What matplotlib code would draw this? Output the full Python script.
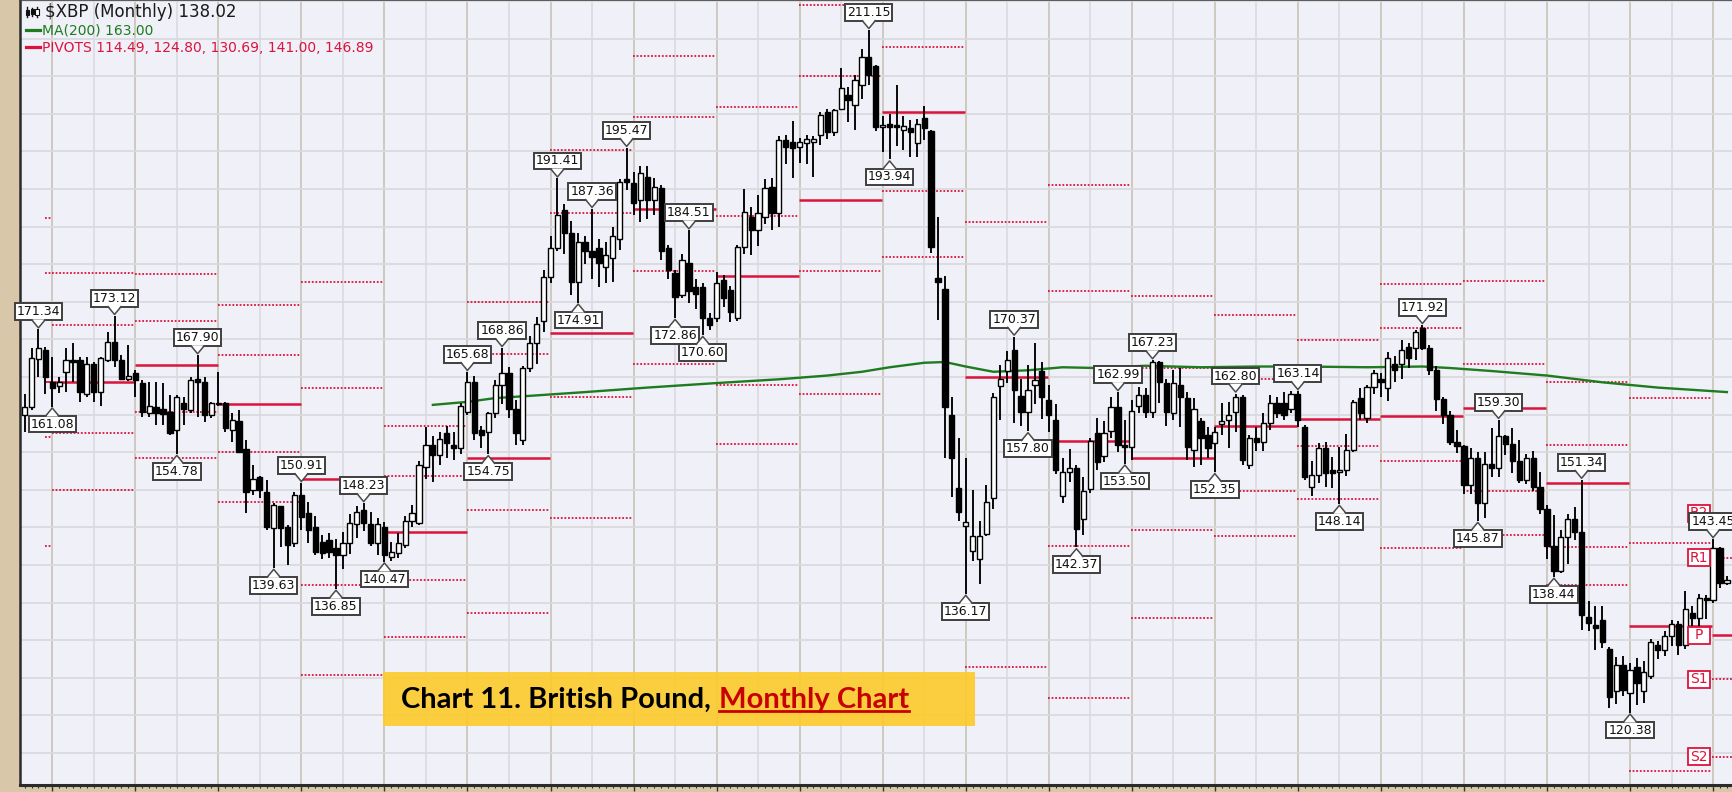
import numpy as np
import matplotlib
matplotlib.use("Agg")
import matplotlib.pyplot as plt
from matplotlib.patches import Rectangle, Polygon
from matplotlib.lines import Line2D
from matplotlib.transforms import IdentityTransform
from matplotlib.ticker import FixedLocator, MultipleLocator

# monthly candles, index 0 = Sep 1997 ... index 246 = Mar 2018
opens = [
    159.9, 161.0, 167.4, 168.6,
    164.4, 163.8, 165.7, 167.3, 167.3, 162.8, 166.8, 163.0, 167.3, 169.7, 167.3, 164.8,
    165.5, 164.2, 160.2, 161.0, 160.7, 160.3, 157.95, 161.6, 160.6, 164.8, 164.4, 159.9,
    161.4, 161.5, 158.0, 159.1, 155.4, 150.0, 151.7, 149.75, 144.9, 147.8, 145.1, 142.9,
    149.3, 146.9, 145.1, 143.1, 143.3, 142.2, 141.3, 142.9, 145.5, 147.3, 145.5, 142.9,
    145.1, 141.1, 141.6, 142.6, 145.8, 145.55, 153.1, 155.96, 154.6, 157.5, 156.0, 155.5,
    160.4, 164.4, 157.9, 157.7, 160.2, 163.9, 165.5, 160.8, 156.6, 166.2, 169.5, 172.4,
    178.3, 182.1, 187.2, 184.1, 177.7, 183.0, 181.8, 182.1, 179.6, 180.8, 183.4, 191.3,
    190.8, 188.6, 191.6, 188.6, 190.1, 182.1, 178.9, 175.9, 180.1, 177.0, 177.0, 172.8,
    172.8, 177.9, 176.6, 172.8, 182.3, 186.3, 184.6, 186.3, 190.3, 186.8, 196.5, 196.3,
    195.6, 196.1, 196.2, 197.2, 200.3, 197.6, 200.7, 202.5, 201.2, 203.8, 207.6, 206.3,
    198.3, 198.6, 198.5, 197.9, 198.1, 196.1, 199.4, 197.7, 178.2, 176.7, 160.0, 150.2,
    145.2, 141.9, 140.8, 144.1, 148.9, 163.8, 165.8, 168.6, 162.5, 160.3, 163.9, 165.8,
    162.0, 159.3, 149.2, 152.4, 152.9, 146.1, 150.1, 157.5, 154.5, 157.8, 161.0, 156.0,
    155.7, 161.1, 162.6, 160.4, 167.05, 164.2, 160.2, 163.95, 162.2, 155.3, 159.1, 157.3,
    156.2, 158.7, 159.3, 160.4, 162.4, 153.3, 156.9, 156.4, 158.85, 161.5, 161.5, 160.8,
    162.8, 158.4, 150.4, 152.0, 155.5, 152.6, 152.4, 152.6, 155.3, 162.2, 159.5, 163.7,
    164.8, 163.5, 166.8, 166.8, 169.04, 168.8, 171.48, 168.9, 166.0, 162.1, 160.0, 156.4,
    155.8, 150.6, 154.3, 148.3, 153.5, 152.9, 157.1, 156.1, 153.8, 151.3, 154.3, 150.4,
    147.4, 142.5, 139.2, 143.7, 146.1, 144.4, 133.1, 132.0, 132.7, 128.9, 123.2, 126.7,
    123.0, 126.5, 123.2, 125.2, 129.4, 128.7, 130.5, 132.2, 129.4, 133.6, 132.9, 135.6,
    135.3, 142.2, 137.6,
]
highs = [
    162.8, 168.8, 171.34, 169.0,
    167.7, 165.0, 168.8, 169.5, 167.7, 167.7, 167.0, 167.7, 171.0, 173.12, 167.9, 169.3,
    165.9, 164.6, 164.4, 164.4, 164.2, 162.6, 162.6, 162.4, 165.05, 167.9, 165.0, 161.7,
    165.7, 161.7, 160.2, 160.6, 156.6, 153.3, 151.8, 151.3, 148.2, 147.9, 145.3, 149.75,
    150.91, 148.4, 146.5, 144.0, 144.2, 143.5, 144.4, 146.8, 147.9, 148.23, 147.0, 146.3,
    145.7, 143.1, 144.2, 146.5, 148.0, 153.8, 158.4, 157.1, 157.7, 158.5, 157.7, 161.6,
    165.68, 165.2, 158.5, 160.4, 164.6, 168.86, 166.3, 162.0, 166.5, 170.4, 173.0, 179.2,
    183.7, 191.41, 188.0, 185.7, 184.1, 183.8, 187.36, 183.4, 183.0, 185.0, 191.3, 195.47,
    192.3, 193.0, 193.0, 191.5, 190.6, 182.5, 179.3, 181.3, 184.51, 178.0, 177.5, 173.5,
    179.0, 178.6, 177.1, 182.5, 190.0, 187.6, 189.2, 191.3, 191.5, 197.0, 197.2, 199.1,
    196.8, 197.2, 197.0, 200.3, 200.7, 200.7, 206.1, 203.6, 205.2, 208.6, 211.15, 206.5,
    199.7, 200.0, 203.9, 199.7, 199.2, 199.3, 201.1, 197.9, 186.3, 178.5, 162.4, 156.9,
    154.2, 150.0, 145.8, 150.6, 162.9, 166.6, 168.5, 170.37, 164.8, 166.6, 169.5, 167.0,
    163.9, 161.4, 154.3, 155.4, 153.3, 151.7, 156.9, 159.6, 159.1, 162.3, 162.99, 159.3,
    162.0, 163.7, 163.5, 167.23, 167.1, 164.8, 165.9, 166.2, 163.0, 162.2, 159.5, 158.4,
    158.4, 161.5, 161.7, 162.80, 162.6, 157.3, 158.3, 160.2, 162.6, 162.4, 163.0, 163.1,
    163.14, 158.6, 153.8, 156.2, 156.4, 154.4, 155.7, 157.4, 162.0, 163.5, 164.0, 165.9,
    165.5, 168.3, 167.8, 169.9, 169.5, 171.2, 171.92, 169.3, 166.5, 162.3, 160.5, 157.9,
    155.9, 155.5, 155.0, 154.97, 158.2, 159.30, 157.3, 158.2, 156.6, 154.8, 155.1, 152.4,
    148.0, 146.7, 144.6, 146.8, 147.7, 151.34, 135.2, 134.5, 134.6, 129.1, 127.8, 127.9,
    127.0, 127.7, 127.2, 130.2, 129.9, 131.2, 132.7, 132.5, 136.6, 134.5, 136.2, 136.0,
    143.45, 142.4, 138.5,
]
lows = [
    157.7, 160.6, 165.0, 162.8,
    161.08, 162.9, 163.05, 164.4, 161.7, 162.4, 161.7, 161.1, 167.0, 166.4, 164.6, 164.5,
    162.4, 159.7, 159.7, 158.6, 158.6, 157.3, 154.78, 158.6, 160.2, 159.7, 159.05, 159.5,
    161.1, 157.7, 156.4, 155.0, 146.9, 149.3, 148.9, 144.7, 139.63, 142.4, 140.0, 142.4,
    144.7, 142.9, 141.3, 140.8, 141.0, 136.85, 139.5, 141.5, 143.6, 144.5, 142.5, 141.3,
    140.47, 140.6, 140.9, 142.2, 145.0, 145.3, 151.5, 151.0, 153.3, 154.2, 154.0, 154.8,
    160.0, 156.6, 155.6, 154.75, 159.5, 161.4, 159.5, 156.0, 155.9, 165.7, 166.8, 171.0,
    177.5, 181.7, 181.3, 175.9, 174.91, 180.0, 178.0, 177.0, 177.5, 177.6, 181.9, 189.9,
    186.5, 185.6, 186.0, 186.6, 180.6, 178.1, 172.86, 175.5, 174.8, 174.0, 170.60, 171.2,
    172.3, 174.3, 172.3, 172.5, 181.3, 181.2, 182.4, 185.3, 184.5, 185.0, 193.3, 191.5,
    193.5, 193.3, 191.6, 195.9, 196.6, 197.0, 200.5, 198.9, 197.8, 202.0, 203.8, 197.7,
    194.9, 193.94, 195.7, 195.2, 194.3, 194.2, 196.5, 181.5, 172.6, 154.2, 149.0, 145.8,
    136.17, 140.5, 137.5, 143.9, 147.5, 159.3, 164.2, 158.9, 158.5, 157.80, 161.4, 159.4,
    157.7, 152.1, 148.2, 151.0, 142.37, 144.0, 149.6, 152.7, 153.7, 156.9, 155.0, 153.50,
    154.0, 160.2, 159.5, 159.6, 161.5, 158.5, 159.3, 158.3, 154.0, 153.0, 153.3, 154.2,
    152.35, 157.3, 155.5, 157.7, 153.3, 152.8, 155.1, 155.1, 158.0, 159.5, 159.3, 160.2,
    158.4, 151.3, 149.2, 150.9, 150.4, 150.2, 148.14, 151.8, 155.0, 159.3, 158.9, 162.8,
    162.4, 161.8, 164.4, 164.8, 166.2, 167.3, 168.6, 165.3, 160.5, 158.8, 155.9, 154.9,
    149.5, 149.5, 145.87, 146.2, 151.7, 151.7, 154.6, 152.3, 150.9, 150.8, 149.9, 146.8,
    140.8, 138.44, 139.0, 140.1, 143.3, 131.3, 131.2, 128.7, 129.0, 121.0, 121.5, 122.6,
    120.38, 121.4, 121.7, 124.8, 127.5, 127.9, 129.3, 128.0, 128.9, 131.9, 131.8, 132.8,
    134.9, 137.0, 137.3,
]
closes = [
    161.0, 167.5, 168.8, 165.0,
    163.5, 164.3, 167.3, 167.0, 163.05, 166.8, 163.05, 167.5, 169.7, 167.3, 164.8, 165.1,
    164.6, 160.4, 161.1, 160.2, 160.1, 157.5, 162.4, 160.7, 164.6, 164.4, 159.95, 161.5,
    161.6, 158.2, 159.3, 155.07, 149.75, 151.5, 150.0, 145.1, 148.0, 144.9, 142.65, 149.3,
    146.4, 144.66, 141.8, 141.6, 141.8, 141.3, 142.9, 145.55, 147.1, 145.55, 142.9, 145.5,
    141.3, 141.8, 142.9, 145.8, 146.9, 153.3, 155.96, 154.6, 156.8, 156.2, 155.6, 161.2,
    164.4, 157.5, 157.3, 160.2, 163.9, 165.5, 160.8, 157.5, 166.2, 169.5, 172.1, 178.3,
    182.1, 186.5, 184.1, 177.7, 183.0, 181.8, 181.0, 180.1, 181.2, 183.7, 191.0, 191.0,
    188.1, 192.1, 188.6, 190.3, 181.7, 179.2, 175.7, 180.6, 176.4, 176.1, 172.8, 171.9,
    177.5, 175.5, 173.7, 182.3, 187.0, 184.6, 186.8, 190.1, 186.8, 196.5, 195.6, 195.4,
    196.3, 196.7, 196.7, 199.9, 197.6, 200.5, 203.4, 201.8, 204.5, 207.6, 205.2, 198.3,
    198.5, 198.3, 198.2, 198.4, 197.6, 198.7, 198.1, 182.3, 177.7, 161.0, 154.2, 147.1,
    145.7, 143.8, 143.8, 148.4, 162.3, 164.8, 167.3, 163.3, 160.3, 163.3, 164.6, 162.3,
    160.0, 152.7, 152.4, 152.9, 144.8, 149.9, 156.5, 153.7, 157.5, 161.0, 156.0, 155.7,
    160.5, 162.6, 160.4, 167.05, 164.4, 160.4, 164.2, 162.4, 155.75, 160.8, 156.9, 155.5,
    157.7, 159.1, 159.9, 162.4, 154.0, 156.9, 156.4, 158.85, 161.5, 160.2, 159.96, 162.8,
    159.3, 151.76, 151.98, 155.5, 152.2, 152.2, 152.6, 155.3, 161.7, 160.18, 163.7, 165.5,
    164.4, 167.5, 165.9, 168.6, 167.5, 171.04, 168.9, 166.0, 162.1, 160.0, 156.4, 155.8,
    150.6, 154.3, 148.3, 153.5, 152.9, 157.1, 156.1, 153.8, 151.3, 154.3, 150.4, 147.4,
    142.5, 139.2, 143.7, 146.1, 144.4, 133.4, 132.3, 131.6, 129.8, 122.5, 126.7, 123.4,
    126.05, 124.3, 125.8, 129.8, 128.7, 130.5, 132.2, 129.4, 134.2, 132.9, 135.6, 135.3,
    142.2, 137.6, 138.02,
]

# swing labels (candle index)
high_tags = [2, 13, 25, 40, 49, 64, 69, 77, 82, 87, 96, 122, 143, 158, 163, 175, 184, 202, 213, 225, 244]
low_tags = [4, 22, 36, 45, 52, 67, 80, 94, 98, 125, 136, 145, 152, 159, 172, 190, 210, 221, 232]

# MA(200)
ma_idx = [59, 64, 68, 73, 81, 90, 100, 109, 116, 121, 125, 130, 133, 136, 140, 145, 150, 155,
          162, 170, 178, 185, 194, 202, 206, 212, 220, 228, 236, 246]
ma_val = [161.3, 161.7, 162.2, 162.5, 163.0, 163.6, 164.2, 164.7, 165.2, 165.7, 166.3, 166.9, 167.0,
          166.4, 165.7, 165.9, 166.3, 166.2, 166.5, 166.3, 166.4, 166.4, 166.3, 166.4, 166.2, 165.8,
          165.2, 164.3, 163.6, 163.0]

# yearly pivots 1998..2018 (R2, R1, P, S1, S2)
years = list(range(1998, 2019))
piv_r2 = [178.9, 178.7, 174.6, 177.6, 158.5, 175.0, 195.2, 207.7, 200.9, 214.5, 220.0, 223.0,
          190.5, 175.8, 173.2, 169.9, 177.4, 177.8, 164.3, 162.2, 146.89]
piv_r1 = [171.9, 172.4, 167.9, 163.6, 151.9, 168.1, 186.85, 199.6, 186.4, 205.0, 208.9, 185.65,
          176.4, 166.2, 164.7, 166.4, 171.5, 166.8, 155.9, 142.9, 141.00]
piv_p = [164.4, 166.6, 161.4, 151.5, 144.4, 154.3, 170.8, 187.3, 178.5, 188.6, 200.3, 165.0,
         156.5, 154.3, 158.5, 159.4, 159.8, 160.9, 150.9, 131.9, 130.69]
piv_s1 = [157.6, 160.3, 155.0, 137.3, 137.95, 147.3, 162.4, 179.15, 164.0, 179.15, 189.7, 126.5,
          142.5, 144.7, 149.8, 155.8, 153.9, 149.9, 142.4, 112.6, 124.80]
piv_s2 = [150.0, 154.3, 148.4, 125.4, 130.4, 133.6, 146.3, 166.7, 156.1, 162.7, 180.9, 108.0,
          122.3, 132.9, 143.9, 148.8, 142.2, 144.0, 137.4, 101.6, 114.49]
piv_1997 = [186.2, 178.8, 164.4, 157.0, 142.5]   # short stub before Jan 1998

RED = '#DC143C'
GREEN = '#1E7B1E'
W, H = 1733, 792

fig = plt.figure(figsize=(W / 100, H / 100), dpi=100)
fig.patch.set_facecolor('#D8C8A9')
ax = fig.add_axes([20.5 / W, 7 / H, (W - 20.5) / W, 785 / H])
ax.set_facecolor('#EFF0F8')
n = len(closes)
ax.set_xlim(-0.59, 246.88)
ax.set_ylim(110.75, 215.14)

# grid
for xi in np.arange(-2, 250, 6):
    col = '#CCC6BA' if (xi - 4) % 12 == 0 else '#DCDCE1'
    ax.axvline(xi, color=col, lw=1.3, zorder=0.5)
for yv in range(115, 216, 5):
    ax.axhline(yv, color='#D9D9DE', lw=1.3, zorder=0.5)

# pivots
dots = (0, (1, 1))
for lvl in piv_1997:
    ax.hlines(lvl, 2.9, 3.9, colors=RED, lw=1.3, linestyles=dots if lvl != piv_1997[2] else 'solid', zorder=1.2)
for k, yr in enumerate(years):
    j = 4 + 12 * k
    x0, x1 = j - 0.1, min(j + 11.9, 248)
    for lvl in (piv_r2[k], piv_r1[k], piv_s1[k], piv_s2[k]):
        ax.hlines(lvl, x0, x1, colors=RED, lw=1.3, linestyles=dots, zorder=1.2)
    ax.hlines(piv_p[k], x0, x1, colors=RED, lw=1.8, zorder=1.3)

# MA
ax.plot(ma_idx, ma_val, color=GREEN, lw=1.7, zorder=1.6)

# candles
o, h, l, c = map(np.array, (opens, highs, lows, closes))
idx = np.arange(n)
up = c >= o
ax.vlines(idx, l, h, color='black', lw=1.35, zorder=2)
body_lo = np.minimum(o, c)
body_h = np.maximum(np.abs(c - o), 0.15)
ax.bar(idx, body_h, bottom=body_lo, width=0.76, color=np.where(up, 'white', 'black'),
       edgecolor='black', linewidth=1.0, zorder=3)

ID = IdentityTransform()


def tag(i, price, above):
    x, y = ax.transData.transform((i, price))
    s = 1 if above else -1
    ax.text(x, y + s * 17.5, f"{price:.2f}", transform=ID, ha='center', va='center',
            fontsize=9, color='#111111', zorder=6, clip_on=False,
            bbox=dict(boxstyle='square,pad=0.15', fc='white', ec='#3f3f3f', lw=1.4))
    ax.add_patch(Polygon([(x - 6, y + s * 10), (x, y + s * 1.5), (x + 6, y + s * 10)], closed=True,
                         transform=ID, fc='white', ec='none', zorder=7, clip_on=False))
    ax.add_line(Line2D([x - 6.5, x, x + 6.5], [y + s * 9.3, y + s * 1.5, y + s * 9.3], transform=ID,
                       color='#4a4a4a', lw=1.1, zorder=7, clip_on=False))


# pivot name boxes for the current year
for name, lvl in zip(['R2', 'R1', 'P', 'S1', 'S2'], [piv_r2[-1], piv_r1[-1], piv_p[-1], piv_s1[-1], piv_s2[-1]]):
    x, y = ax.transData.transform((243.55, lvl))
    ax.add_patch(Rectangle((x - 22, y - 8.5), 22, 17, transform=ID, fc='white', ec=RED, lw=1.3,
                           zorder=5.5, clip_on=False))
    ax.text(x - 11, y, name, transform=ID, ha='center', va='center', fontsize=10, color=RED,
            zorder=5.6, clip_on=False)

for i in high_tags:
    tag(i, highs[i], True)
for i in low_tags:
    tag(i, lows[i], False)

# axes cosmetics
ax.spines['right'].set_visible(False)
ax.spines['bottom'].set_linewidth(2.2)
ax.spines['bottom'].set_color('#2b2b2b')
ax.spines['left'].set_linewidth(1.8)
ax.spines['left'].set_color('#2b2b2b')
ax.spines['top'].set_linewidth(1.2)
ax.spines['top'].set_color('#444444')
year_idx = [4 + 12 * k for k in range(len(years))]
ax.xaxis.set_major_locator(FixedLocator(year_idx))
ax.set_xticklabels([str(y) for y in years])
ax.xaxis.set_minor_locator(MultipleLocator(1))
ax.tick_params(axis='x', which='major', length=4, width=1, color='#333333', pad=0.5,
               labelsize=10, labelcolor='#6b6150')
ax.tick_params(axis='x', which='minor', length=2.5, width=0.8, color='#333333')
ax.tick_params(axis='y', left=False, labelleft=False)


def fx(px):
    return px / W


def fy(py):
    return 1 - py / H


# legend block
fig.text(fx(45), fy(17), '$XBP (Monthly) 138.02', fontsize=12, color='#1a1a1a', va='baseline', zorder=12)
icon = [(26.5, 7, 17, 25.5, 10, 3, 5, True), (31.5, 8, 16, 30.5, 9, 3, 5, True), (36.5, 7, 17, 35, 9, 4, 6, False)]
for xl, yt, yb, rx, ry, rw, rh, filled in icon:
    fig.add_artist(Line2D([xl, xl], [H - yt, H - yb], transform=ID, color='#111111', lw=1, zorder=12))
    fig.add_artist(Rectangle((rx, H - ry - rh), rw, rh, transform=ID, fc='#111111' if filled else 'white',
                             ec='#111111', lw=0.8, zorder=12))
fig.add_artist(Line2D([26, 40], [H - 29.5, H - 29.5], transform=ID, color=GREEN, lw=2.3, zorder=12))
fig.text(fx(42), fy(34), 'MA(200) 163.00', fontsize=10, color=GREEN, va='baseline', zorder=12)
fig.add_artist(Line2D([26, 40], [H - 47, H - 47], transform=ID, color=RED, lw=2.3, zorder=12))
fig.text(fx(42), fy(52), 'PIVOTS ' + ', '.join(f"{v:.2f}" for v in
                                                  [piv_s2[-1], piv_s1[-1], piv_p[-1], piv_r1[-1], piv_r2[-1]]),
         fontsize=10, color=RED, va='baseline', zorder=12)

# caption box
fig.add_artist(Rectangle((fx(383.5), fy(726)), 591.5 / W, 54 / H, transform=fig.transFigure,
                         fc='#FCCB2E', ec='none', alpha=0.92, zorder=10))
r = fig.canvas.get_renderer()
t1 = fig.text(fx(401), fy(708), 'Chart 11. British Pound,', fontsize=20, fontweight='bold',
              family='Lato', color='black', va='baseline', zorder=11)
t2 = fig.text(0, fy(708), 'Monthly Chart', fontsize=20, fontweight='bold', family='Lato',
              color='#C80000', va='baseline', zorder=11)
w1 = t1.get_window_extent(r).width
w2 = t2.get_window_extent(r).width
scale = (910 - 401 - 8) / (w1 + w2)
t1.set_fontsize(20 * scale)
t2.set_fontsize(20 * scale)
w1 = t1.get_window_extent(r).width
w2 = t2.get_window_extent(r).width
x2 = 401 + w1 + 8
t2.set_x(fx(x2))
fig.add_artist(Line2D([x2, x2 + w2], [H - 711, H - 711], transform=ID, color='#C80000', lw=2, zorder=11))

fig.savefig('out.png', dpi=100, facecolor=fig.get_facecolor())
